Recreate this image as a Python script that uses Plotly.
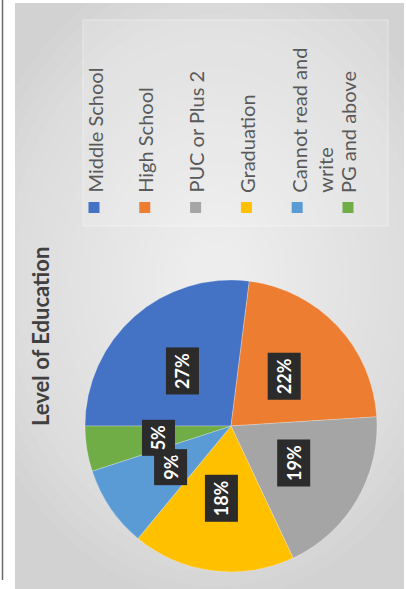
import math
import plotly.graph_objects as go

# ---- data ----
categories = ["Middle School", "High School", "PUC or Plus 2", "Graduation",
              "Cannot read and write", "PG and above"]
legend_text = ["Middle School", "High School", "PUC or Plus 2", "Graduation",
               "Cannot read and<br>write", "PG and above"]
shares = [27, 22, 19, 18, 9, 5]
colors = ["#4472C4", "#ED7D31", "#A5A5A5", "#FFC000", "#5B9BD5", "#70AD47"]
title_text = "Level of Education"

# ---- page geometry (px) ----
W, H = 406, 589
cx, cy, rad = 231, 426, 146          # pie centre and radius
FONT = "Lato"


def px(x, y):
    """pixel position (from top-left) -> paper coordinates"""
    return x / W, 1 - y / H


shapes = []
# page frame: thin dark rule at the left, grey chart area
shapes.append(dict(type="line", xref="paper", yref="paper",
                   x0=2.5 / W, x1=2.5 / W, y0=1 - 580 / H, y1=1,
                   line=dict(color="#6a6a6a", width=1.5), layer="below"))
x0, y0 = px(15, 3)
x1, y1 = px(404, H)
shapes.append(dict(type="rect", xref="paper", yref="paper",
                   x0=x0, y0=y1, x1=x1, y1=y0,
                   fillcolor="#d2d2d2", line=dict(width=0), layer="below"))
# soft radial light on the chart area
gx, gy = 215, 280
n_rings = 22
for k in range(n_rings):
    rx = 250 - k * 10.5
    ry = 320 - k * 13.5
    a0, b0 = px(gx - rx, gy - ry)
    a1, b1 = px(gx + rx, gy + ry)
    shapes.append(dict(type="circle", xref="paper", yref="paper",
                       x0=a0, x1=a1, y0=b1, y1=b0,
                       fillcolor="rgba(255,255,255,0.055)", line=dict(width=0),
                       layer="below"))
# white frame around the chart area hides ring overflow
shapes.append(dict(type="rect", xref="paper", yref="paper",
                   x0=0, x1=x0, y0=0, y1=1, fillcolor="white",
                   line=dict(width=0), layer="below"))
shapes.append(dict(type="rect", xref="paper", yref="paper",
                   x0=x1, x1=1, y0=0, y1=1, fillcolor="white",
                   line=dict(width=0), layer="below"))
shapes.append(dict(type="rect", xref="paper", yref="paper",
                   x0=0, x1=1, y0=y0, y1=1, fillcolor="white",
                   line=dict(width=0), layer="below"))
shapes.append(dict(type="line", xref="paper", yref="paper",
                   x0=2.5 / W, x1=2.5 / W, y0=1 - 580 / H, y1=1,
                   line=dict(color="#6a6a6a", width=1.5), layer="below"))
# legend panel
lx0, ly0 = px(83, 20)
lx1, ly1 = px(388, 226)
shapes.append(dict(type="rect", xref="paper", yref="paper",
                   x0=lx0, x1=lx1, y0=ly1, y1=ly0,
                   fillcolor="rgba(255,255,255,0.15)",
                   line=dict(color="rgba(255,255,255,0.4)", width=1),
                   layer="below"))

annotations = []

# ---- title (rotated, reads bottom to top) ----
tx, ty = px(40, 337)
annotations.append(dict(text=f"<b>{title_text}</b>", x=tx, y=ty,
                        xref="paper", yref="paper", showarrow=False,
                        textangle=-90, xanchor="center", yanchor="middle",
                        font=dict(family=FONT, size=22, color="#404040")))

# ---- legend (rotated) ----
leg_x0, leg_pitch = 94, 50.8
leg_text_bottom, sq_y, sq = 195, 207.5, 11
for i, (lab, col) in enumerate(zip(legend_text, colors)):
    xi = leg_x0 + i * leg_pitch
    a0, b0 = px(xi - sq / 2, sq_y - sq / 2)
    a1, b1 = px(xi + sq / 2, sq_y + sq / 2)
    shapes.append(dict(type="rect", xref="paper", yref="paper",
                       x0=a0, x1=a1, y0=b1, y1=b0, fillcolor=col,
                       line=dict(width=0)))
    multi = "<br>" in lab
    ax, ay = px(xi - 13 if multi else xi, leg_text_bottom)
    annotations.append(dict(text=lab, x=ax, y=ay, xref="paper", yref="paper",
                            showarrow=False, textangle=-90, align="left",
                            xanchor="left" if multi else "center",
                            yanchor="bottom",
                            font=dict(family=FONT, size=20, color="#595959")))

# ---- pie: first slice at 9 o'clock, clockwise ----
dom_x = [(cx - rad) / W, (cx + rad) / W]
dom_y = [1 - (cy + rad) / H, 1 - (cy - rad) / H]
pie = go.Pie(labels=categories, values=shares, sort=False,
             direction="clockwise", rotation=270,
             marker=dict(colors=colors, line=dict(color="rgba(255,255,255,0.5)", width=0.5)),
             textinfo="none", hoverinfo="label+percent",
             domain=dict(x=dom_x, y=dom_y), showlegend=False)

# ---- data labels: dark boxes at half radius on each slice's mid-angle ----
total = sum(shares)
cum = 0.0
for v in shares:
    mid = (cum + v / 2) / total * 2 * math.pi
    cum += v
    lxp = cx - 0.5 * rad * math.cos(mid)
    lyp = cy - 0.5 * rad * math.sin(mid)
    ax, ay = px(lxp, lyp)
    annotations.append(dict(text=f"<b>{v}%</b>", x=ax, y=ay,
                            xref="paper", yref="paper", showarrow=False,
                            textangle=-90, xanchor="center", yanchor="middle",
                            bgcolor="#2b2b2b", borderpad=5,
                            font=dict(family=FONT, size=18, color="white")))

fig = go.Figure(pie)
fig.update_layout(width=W, height=H, margin=dict(l=0, r=0, t=0, b=0),
                  paper_bgcolor="white", plot_bgcolor="white",
                  shapes=shapes, annotations=annotations, showlegend=False)
fig.write_html("out.html")
